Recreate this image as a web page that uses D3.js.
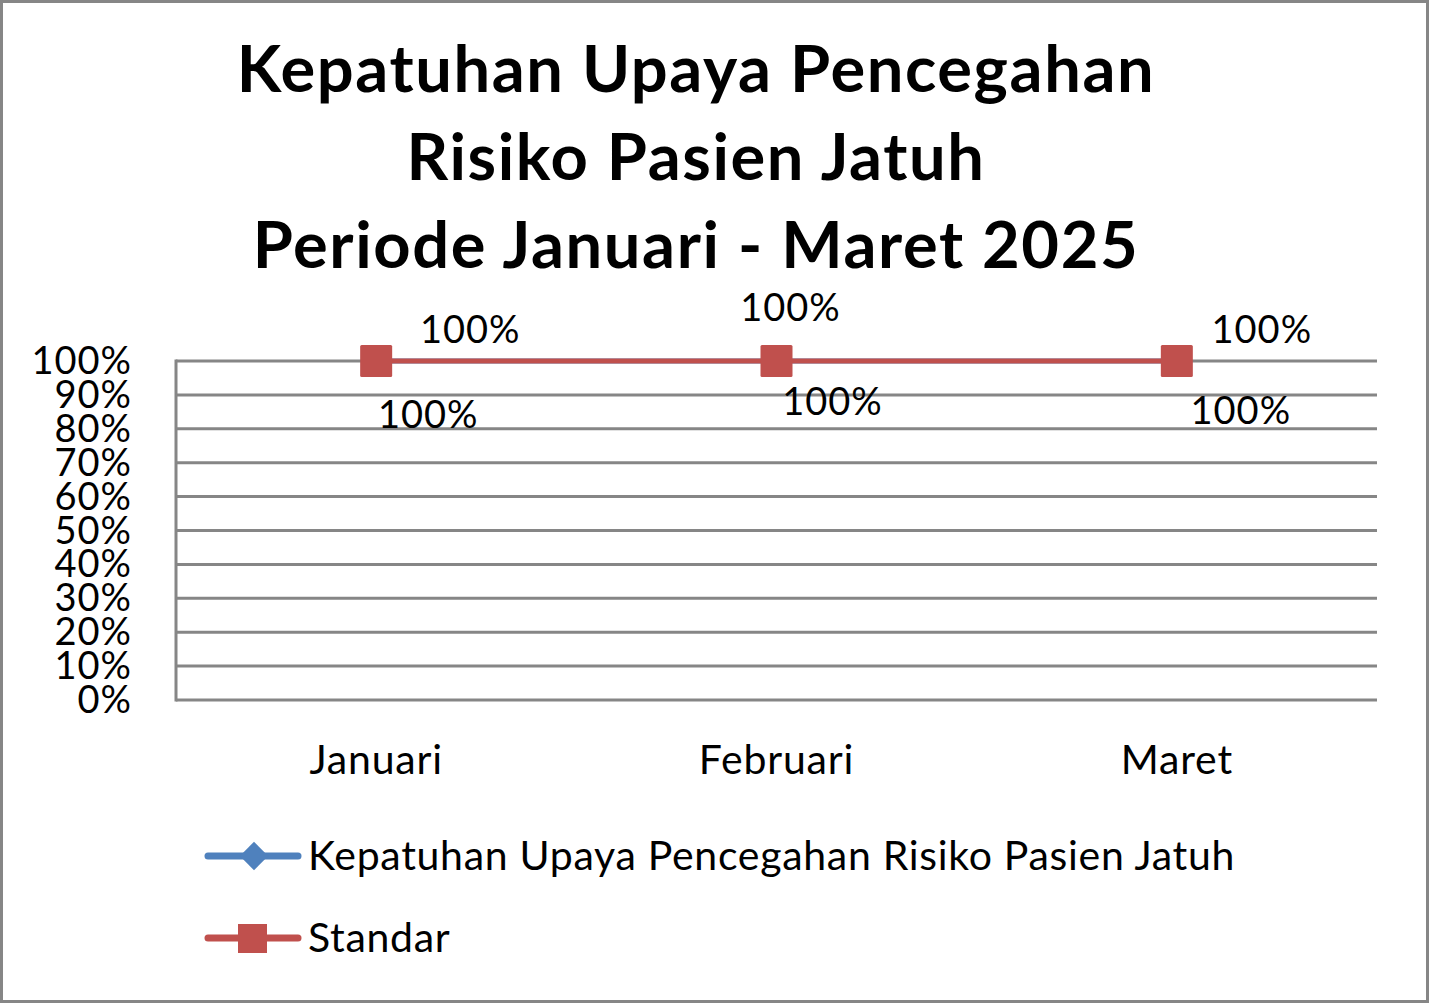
<!DOCTYPE html>
<html><head><meta charset="utf-8">
<script src="https://cdn.jsdelivr.net/npm/d3@7/dist/d3.min.js"></script>
<style>body{margin:0;background:#fff}svg{display:block}text{font-family:Lato,"Open Sans",sans-serif}</style>
</head><body>
<svg id="c" width="1429" height="1003"></svg>
<script>
const titleLines = ["Kepatuhan Upaya Pencegahan","Risiko Pasien Jatuh","Periode Januari - Maret 2025"];
const categories = ["Januari","Februari","Maret"];
const kepatuhan = [1.00, 1.00, 1.00];
const standar = [1.00, 1.00, 1.00];
const yTicks = [0,0.1,0.2,0.3,0.4,0.5,0.6,0.7,0.8,0.9,1.0];
const seriesNames = ["Kepatuhan Upaya Pencegahan Risiko Pasien Jatuh","Standar"];
const colors = ["#4F81BD","#C0504D"];

// label offsets (layout)
const offKep = [[52,67],[56,54],[64,63]];
const offStd = [[94,-18],[14,-40],[85,-18]];

const svg = d3.select("#c");
svg.append("rect").attr("x",1.5).attr("y",1.5).attr("width",1426).attr("height",1000)
  .attr("fill","#fff").attr("stroke","#868686").attr("stroke-width",3);

const L=176,R=1377,T=361,B=700;
const x = d3.scaleBand().domain(categories).range([L,R]);
const y = d3.scaleLinear().domain([0,1]).range([B,T]);

svg.append("g").selectAll("text").data(titleLines).join("text")
  .attr("x",696).attr("y",(d,i)=>92+i*88).attr("text-anchor","middle")
  .attr("font-weight","bold").attr("font-size",65).attr("letter-spacing",1.6)
  .attr("fill","#000").text(d=>d);

// grid
svg.append("g").selectAll("line").data(yTicks).join("line")
  .attr("x1",L).attr("x2",R).attr("y1",d=>y(d)).attr("y2",d=>y(d))
  .attr("stroke","#868686").attr("stroke-width",3);
svg.append("line").attr("x1",L).attr("x2",L).attr("y1",T-1.5).attr("y2",B+1.5)
  .attr("stroke","#868686").attr("stroke-width",3);

// y labels
svg.append("g").selectAll("text").data(yTicks).join("text")
  .attr("x",132).attr("y",d=>y(d)+13).attr("text-anchor","end")
  .attr("font-size",38).attr("letter-spacing",1).attr("fill","#000").text(d=>d3.format(".0%")(d));

// x labels
svg.append("g").selectAll("text").data(categories).join("text")
  .attr("x",d=>x(d)+x.bandwidth()/2).attr("y",774).attr("text-anchor","middle")
  .attr("font-size",41).attr("letter-spacing",0.8).attr("fill","#000").text(d=>d);

const cx = d=>x(d)+x.bandwidth()/2;
const line = d3.line().x((d,i)=>cx(categories[i])).y(d=>y(d));

// series 1 (hidden beneath)
svg.append("path").datum(kepatuhan).attr("d",line).attr("fill","none")
  .attr("stroke",colors[0]).attr("stroke-width",5);
svg.append("g").selectAll("path").data(kepatuhan).join("path")
  .attr("d",d3.symbol().type(d3.symbolSquare).size(380))
  .attr("transform",(d,i)=>`translate(${cx(categories[i])},${y(d)}) rotate(45)`).attr("fill",colors[0]);
// series 2
svg.append("path").datum(standar).attr("d",line).attr("fill","none")
  .attr("stroke",colors[1]).attr("stroke-width",5);
svg.append("g").selectAll("rect").data(standar).join("rect")
  .attr("x",(d,i)=>cx(categories[i])-16).attr("y",d=>y(d)-16)
  .attr("width",32).attr("height",32).attr("rx",1.5).attr("fill",colors[1]);

// data labels
svg.append("g").selectAll("text").data(kepatuhan).join("text")
  .attr("x",(d,i)=>cx(categories[i])+offKep[i][0]).attr("y",(d,i)=>y(d)+offKep[i][1])
  .attr("text-anchor","middle").attr("font-size",38).attr("letter-spacing",1).attr("fill","#000")
  .text(d=>d3.format(".0%")(d));
svg.append("g").selectAll("text").data(standar).join("text")
  .attr("x",(d,i)=>cx(categories[i])+offStd[i][0]).attr("y",(d,i)=>y(d)+offStd[i][1])
  .attr("text-anchor","middle").attr("font-size",38).attr("letter-spacing",1).attr("fill","#000")
  .text(d=>d3.format(".0%")(d));

// legend
const lg = svg.append("g").selectAll("g").data(seriesNames).join("g")
  .attr("transform",(d,i)=>`translate(0,${856+i*82})`);
lg.append("line").attr("x1",208).attr("x2",298).attr("y1",0).attr("y2",0)
  .attr("stroke",(d,i)=>colors[i]).attr("stroke-width",7).attr("stroke-linecap","round");
lg.each(function(d,i){
  const g=d3.select(this);
  if(i===0) g.append("path").attr("d",d3.symbol().type(d3.symbolSquare).size(400))
     .attr("transform","translate(254,0) rotate(45)").attr("fill",colors[0]);
  else g.append("rect").attr("x",238).attr("y",-14).attr("width",29).attr("height",29).attr("fill",colors[1]);
});
lg.append("text").attr("x",308).attr("y",14).attr("font-size",41).attr("letter-spacing",0.7)
  .attr("fill","#000").text(d=>d);
</script>
</body></html>
